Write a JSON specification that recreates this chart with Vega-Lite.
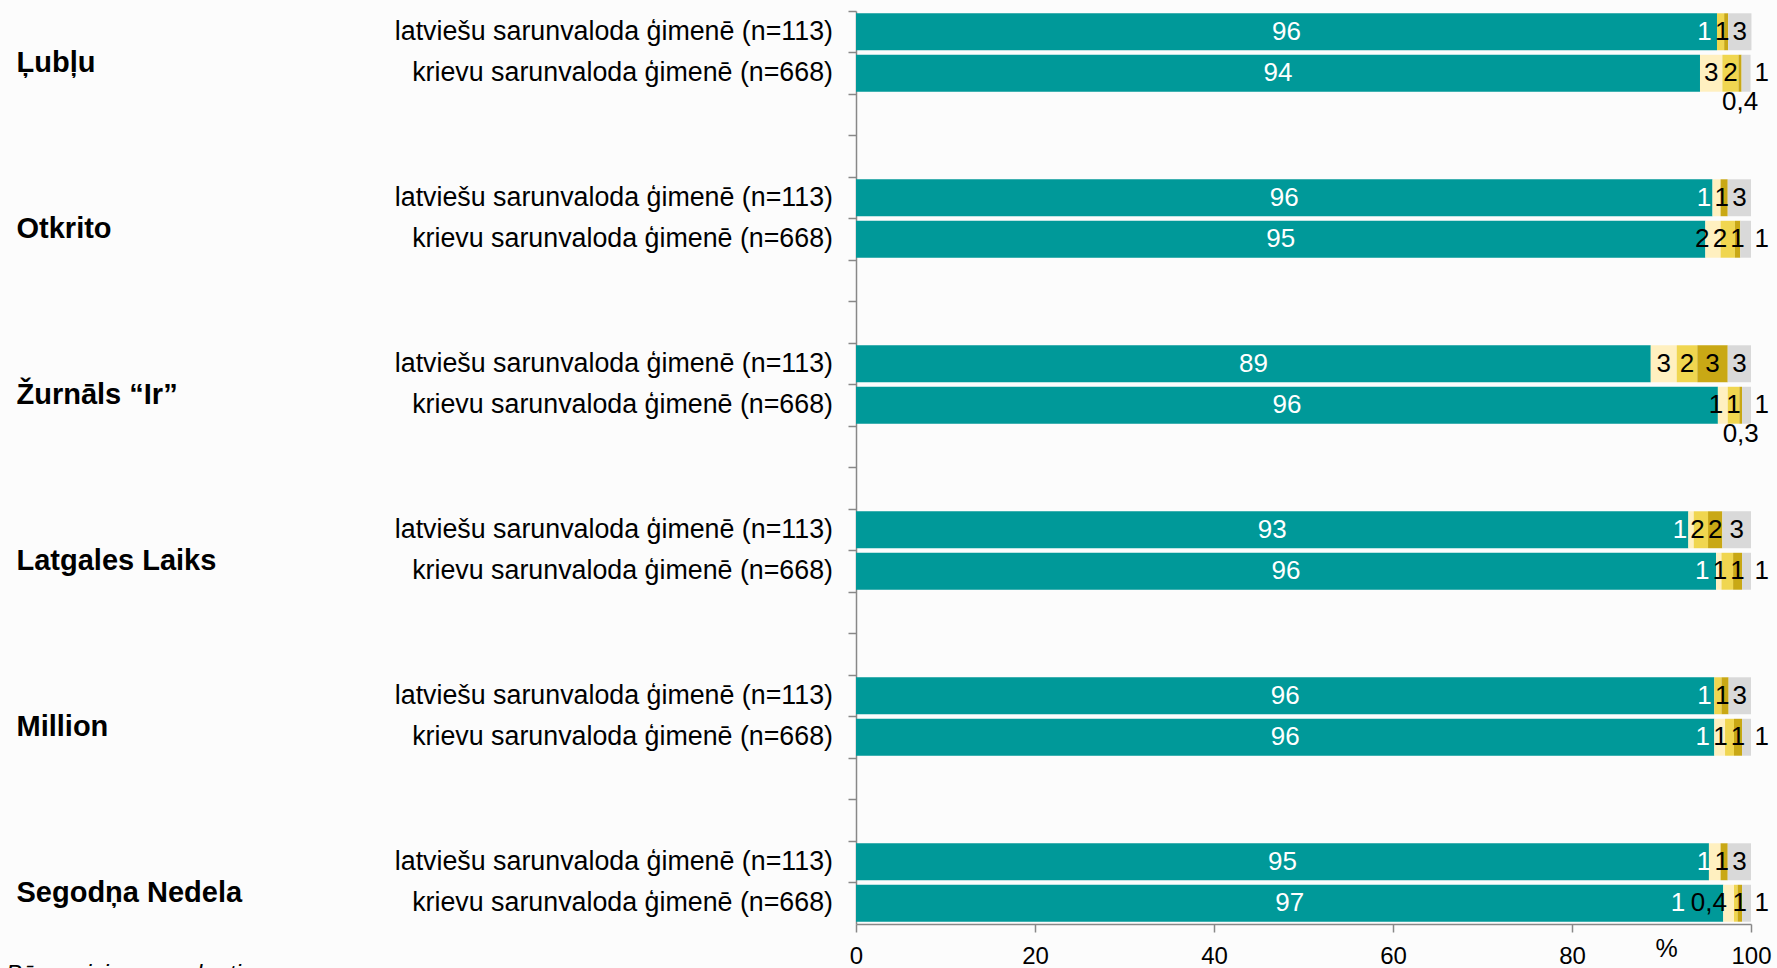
{
  "$schema": "https://vega.github.io/schema/vega-lite/v6.json",
  "width": 895,
  "height": 913,
  "autosize": {"type": "none"},
  "padding": {"left": 856, "top": 11, "right": 26, "bottom": 44},
  "background": "#fcfcfc",
  "config": {"font": "Liberation Sans", "view": {"stroke": null}},
  "title": {"text": "Bāze: visi respondenti", "orient": "bottom", "anchor": "start", "frame": "bounds", "fontSize": 24, "fontWeight": "normal", "fontStyle": "italic", "color": "black", "offset": -5, "dx": -10, "baseline": "top"},
  "datasets": {
    "bars": [
      {"row": "Ļubļu|lv", "cat": "c1", "value": 96.2, "label": "96"},
      {"row": "Ļubļu|lv", "cat": "c3", "value": 0.8, "label": "1"},
      {"row": "Ļubļu|lv", "cat": "c4", "value": 0.45, "label": "1"},
      {"row": "Ļubļu|lv", "cat": "c5", "value": 2.6, "label": "3"},
      {"row": "Ļubļu|ru", "cat": "c1", "value": 94.3, "label": "94"},
      {"row": "Ļubļu|ru", "cat": "c2", "value": 2.5, "label": "3"},
      {"row": "Ļubļu|ru", "cat": "c3", "value": 1.8, "label": "2"},
      {"row": "Ļubļu|ru", "cat": "c4", "value": 0.35, "label": "0,4"},
      {"row": "Ļubļu|ru", "cat": "c5", "value": 1.0, "label": "1"},
      {"row": "Otkrito|lv", "cat": "c1", "value": 95.7, "label": "96"},
      {"row": "Otkrito|lv", "cat": "c2", "value": 0.9, "label": "1"},
      {"row": "Otkrito|lv", "cat": "c4", "value": 0.8, "label": "1"},
      {"row": "Otkrito|lv", "cat": "c5", "value": 2.6, "label": "3"},
      {"row": "Otkrito|ru", "cat": "c1", "value": 94.9, "label": "95"},
      {"row": "Otkrito|ru", "cat": "c2", "value": 1.7, "label": "2"},
      {"row": "Otkrito|ru", "cat": "c3", "value": 1.6, "label": "2"},
      {"row": "Otkrito|ru", "cat": "c4", "value": 0.6, "label": "1"},
      {"row": "Otkrito|ru", "cat": "c5", "value": 1.2, "label": "1"},
      {"row": "Žurnāls “Ir”|lv", "cat": "c1", "value": 88.8, "label": "89"},
      {"row": "Žurnāls “Ir”|lv", "cat": "c2", "value": 2.9, "label": "3"},
      {"row": "Žurnāls “Ir”|lv", "cat": "c3", "value": 2.3, "label": "2"},
      {"row": "Žurnāls “Ir”|lv", "cat": "c4", "value": 3.4, "label": "3"},
      {"row": "Žurnāls “Ir”|lv", "cat": "c5", "value": 2.6, "label": "3"},
      {"row": "Žurnāls “Ir”|ru", "cat": "c1", "value": 96.3, "label": "96"},
      {"row": "Žurnāls “Ir”|ru", "cat": "c2", "value": 1.1, "label": "1"},
      {"row": "Žurnāls “Ir”|ru", "cat": "c3", "value": 1.3, "label": "1"},
      {"row": "Žurnāls “Ir”|ru", "cat": "c4", "value": 0.3, "label": "0,3"},
      {"row": "Žurnāls “Ir”|ru", "cat": "c5", "value": 1.0, "label": "1"},
      {"row": "Latgales Laiks|lv", "cat": "c1", "value": 93.0, "label": "93"},
      {"row": "Latgales Laiks|lv", "cat": "c2", "value": 0.6, "label": "1"},
      {"row": "Latgales Laiks|lv", "cat": "c3", "value": 1.6, "label": "2"},
      {"row": "Latgales Laiks|lv", "cat": "c4", "value": 1.6, "label": "2"},
      {"row": "Latgales Laiks|lv", "cat": "c5", "value": 3.2, "label": "3"},
      {"row": "Latgales Laiks|ru", "cat": "c1", "value": 96.1, "label": "96"},
      {"row": "Latgales Laiks|ru", "cat": "c2", "value": 0.6, "label": "1"},
      {"row": "Latgales Laiks|ru", "cat": "c3", "value": 1.3, "label": "1"},
      {"row": "Latgales Laiks|ru", "cat": "c4", "value": 1.0, "label": "1"},
      {"row": "Latgales Laiks|ru", "cat": "c5", "value": 1.0, "label": "1"},
      {"row": "Million|lv", "cat": "c1", "value": 95.9, "label": "96"},
      {"row": "Million|lv", "cat": "c3", "value": 0.8, "label": "1"},
      {"row": "Million|lv", "cat": "c4", "value": 0.8, "label": "1"},
      {"row": "Million|lv", "cat": "c5", "value": 2.5, "label": "3"},
      {"row": "Million|ru", "cat": "c1", "value": 95.9, "label": "96"},
      {"row": "Million|ru", "cat": "c2", "value": 1.2, "label": "1"},
      {"row": "Million|ru", "cat": "c3", "value": 1.0, "label": "1"},
      {"row": "Million|ru", "cat": "c4", "value": 0.9, "label": "1"},
      {"row": "Million|ru", "cat": "c5", "value": 1.0, "label": "1"},
      {"row": "Segodņa Nedela|lv", "cat": "c1", "value": 95.3, "label": "95"},
      {"row": "Segodņa Nedela|lv", "cat": "c2", "value": 1.3, "label": "1"},
      {"row": "Segodņa Nedela|lv", "cat": "c4", "value": 0.8, "label": "1"},
      {"row": "Segodņa Nedela|lv", "cat": "c5", "value": 2.6, "label": "3"},
      {"row": "Segodņa Nedela|ru", "cat": "c1", "value": 96.9, "label": "97"},
      {"row": "Segodņa Nedela|ru", "cat": "c2", "value": 1.2, "label": "1"},
      {"row": "Segodņa Nedela|ru", "cat": "c3", "value": 0.4, "label": "0,4"},
      {"row": "Segodņa Nedela|ru", "cat": "c4", "value": 0.5, "label": "1"},
      {"row": "Segodņa Nedela|ru", "cat": "c5", "value": 1.0, "label": "1"}
    ],
    "rows": [
      {"row": "Ļubļu|lv", "sub": "latviešu sarunvaloda ģimenē (n=113)"},
      {"row": "Ļubļu|ru", "sub": "krievu sarunvaloda ģimenē (n=668)"},
      {"row": "Otkrito|lv", "sub": "latviešu sarunvaloda ģimenē (n=113)"},
      {"row": "Otkrito|ru", "sub": "krievu sarunvaloda ģimenē (n=668)"},
      {"row": "Žurnāls “Ir”|lv", "sub": "latviešu sarunvaloda ģimenē (n=113)"},
      {"row": "Žurnāls “Ir”|ru", "sub": "krievu sarunvaloda ģimenē (n=668)"},
      {"row": "Latgales Laiks|lv", "sub": "latviešu sarunvaloda ģimenē (n=113)"},
      {"row": "Latgales Laiks|ru", "sub": "krievu sarunvaloda ģimenē (n=668)"},
      {"row": "Million|lv", "sub": "latviešu sarunvaloda ģimenē (n=113)"},
      {"row": "Million|ru", "sub": "krievu sarunvaloda ģimenē (n=668)"},
      {"row": "Segodņa Nedela|lv", "sub": "latviešu sarunvaloda ģimenē (n=113)"},
      {"row": "Segodņa Nedela|ru", "sub": "krievu sarunvaloda ģimenē (n=668)"}
    ]
  },
  "encoding": {
    "y": {
      "field": "row",
      "type": "nominal",
      "scale": {
        "domain": [
          "Ļubļu|lv", "Ļubļu|ru", "Ļubļu|b1", "Ļubļu|b2",
          "Otkrito|lv", "Otkrito|ru", "Otkrito|b1", "Otkrito|b2",
          "Žurnāls “Ir”|lv", "Žurnāls “Ir”|ru", "Žurnāls “Ir”|b1", "Žurnāls “Ir”|b2",
          "Latgales Laiks|lv", "Latgales Laiks|ru", "Latgales Laiks|b1", "Latgales Laiks|b2",
          "Million|lv", "Million|ru", "Million|b1", "Million|b2",
          "Segodņa Nedela|lv", "Segodņa Nedela|ru"
        ],
        "paddingInner": 0,
        "paddingOuter": 0
      },
      "axis": {
        "title": null,
        "bandPosition": 0,
        "labelExpr": "split(datum.value, '|')[1] === 'ru' ? split(datum.value, '|')[0] : ''",
        "labelAlign": "left",
        "labelBaseline": "middle",
        "labelPadding": 832,
        "labelOffset": -10,
        "labelFontSize": 29,
        "labelFontWeight": "bold",
        "labelLimit": 600,
        "labelColor": "black",
        "labelOverlap": false,
        "tickSize": 8,
        "tickColor": "#888888",
        "tickWidth": 1.5,
        "domainColor": "#888888",
        "domainWidth": 1.5
      }
    }
  },
  "layer": [
    {
      "data": {"name": "bars"},
      "mark": {"type": "bar", "height": {"band": 0.89}},
      "encoding": {
        "x": {
          "field": "value",
          "type": "quantitative",
          "stack": "zero",
          "scale": {"domain": [0, 100], "nice": false},
          "axis": {
            "values": [0, 20, 40, 60, 80, 100],
            "grid": false,
            "title": "%",
            "titleX": 810,
            "titleY": 24,
            "titleBaseline": "middle",
            "titleAlign": "center",
            "titleFontSize": 25,
            "titleFontWeight": "normal",
            "titleColor": "black",
            "labelFontSize": 24,
            "labelColor": "black",
            "labelFlush": false,
            "labelOverlap": false,
            "labelPadding": 12,
            "tickSize": 8,
            "tickColor": "#888888",
            "tickWidth": 1.5,
            "domainColor": "#888888",
            "domainWidth": 1.5
          }
        },
        "color": {
          "field": "cat",
          "type": "nominal",
          "scale": {"domain": ["c1", "c2", "c3", "c4", "c5"], "range": ["#009999", "#FFF0C0", "#F0D650", "#C9A815", "#D9D9D9"]},
          "legend": null
        },
        "order": {"field": "cat"}
      }
    },
    {
      "data": {"name": "bars"},
      "transform": [
        {"filter": "datum.cat === 'c1'"},
        {"calculate": "datum.value / 2", "as": "mid"}
      ],
      "mark": {"type": "text", "fontSize": 26, "baseline": "middle", "align": "center", "color": "white"},
      "encoding": {
        "x": {"field": "mid", "type": "quantitative"},
        "text": {"field": "label"}
      }
    },
    {
      "data": {"name": "bars"},
      "transform": [
        {"stack": "value", "groupby": ["row"], "sort": [{"field": "cat"}], "as": ["x0", "x1"]},
        {"calculate": "datum.cat === 'c1' ? datum.x1 : 0", "as": "tealEnd"},
        {"joinaggregate": [{"op": "max", "field": "tealEnd", "as": "te"}], "groupby": ["row"]},
        {"filter": "datum.cat !== 'c1'"},
        {"filter": "!(test(/^0,/, datum.label) && datum.row !== 'Segodņa Nedela|ru')"},
        {"calculate": "length(datum.label) === 1 ? 0.81 : 2.3", "as": "h"},
        {"calculate": "2 * datum.h + 0.35", "as": "w"},
        {"calculate": "datum.cat === 'c5' && datum.value < 2 ? 100.4 + datum.h : (datum.x0 + datum.x1) / 2", "as": "m"},
        {"window": [{"op": "sum", "field": "w", "as": "S"}], "groupby": ["row"], "sort": [{"field": "cat", "order": "descending"}], "frame": [null, 0]},
        {"calculate": "datum.S - datum.h", "as": "D"},
        {"calculate": "datum.m + datum.D", "as": "md"},
        {"window": [{"op": "min", "field": "md", "as": "M"}], "groupby": ["row"], "sort": [{"field": "cat", "order": "descending"}], "frame": [null, 0]},
        {"calculate": "datum.M - datum.D", "as": "pos"},
        {"calculate": "datum.pos < datum.te - 0.4 && !test(/^0,/, datum.label) ? 'w' : 'b'", "as": "tone"}
      ],
      "mark": {"type": "text", "fontSize": 26, "baseline": "middle", "align": "center"},
      "encoding": {
        "x": {"field": "pos", "type": "quantitative"},
        "text": {"field": "label"},
        "color": {"condition": {"test": "datum.tone === 'w'", "value": "white"}, "value": "black"}
      }
    },
    {
      "data": {"name": "bars"},
      "transform": [
        {"stack": "value", "groupby": ["row"], "sort": [{"field": "cat"}], "as": ["x0", "x1"]},
        {"filter": "test(/^0,/, datum.label) && datum.row !== 'Segodņa Nedela|ru'"},
        {"calculate": "(datum.x0 + datum.x1) / 2", "as": "mid"}
      ],
      "mark": {"type": "text", "fontSize": 26, "baseline": "middle", "align": "center", "dy": 29, "color": "black"},
      "encoding": {
        "x": {"field": "mid", "type": "quantitative"},
        "text": {"field": "label"}
      }
    },
    {
      "data": {"name": "rows"},
      "mark": {"type": "text", "align": "right", "baseline": "middle", "dx": -23, "fontSize": 26.8, "color": "black"},
      "encoding": {
        "x": {"datum": 0},
        "text": {"field": "sub"}
      }
    }
  ]
}
